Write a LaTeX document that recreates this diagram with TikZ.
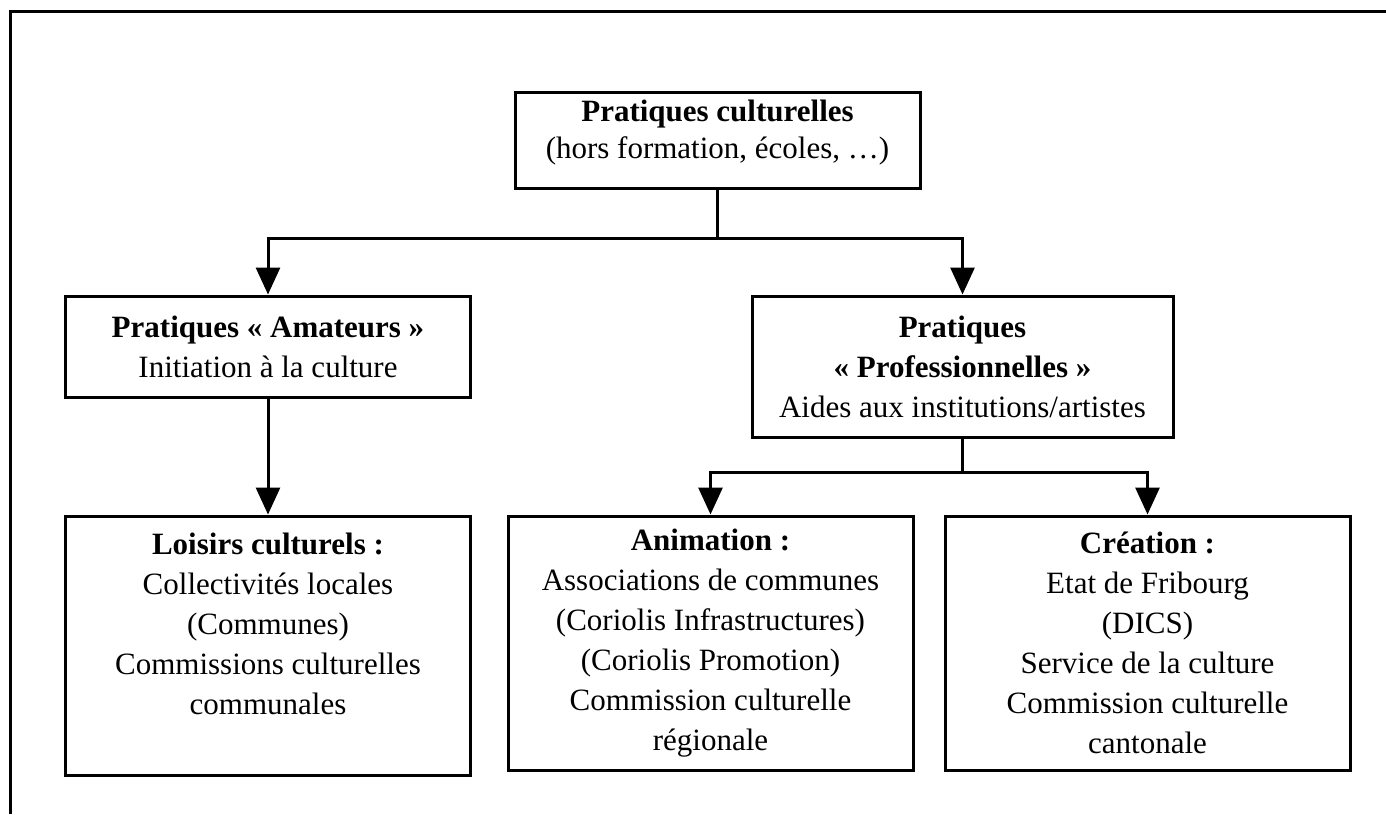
\documentclass[tikz,border=0pt]{standalone}
\usepackage{fontspec}
\setmainfont{Liberation Serif}
\usetikzlibrary{shapes,arrows,arrows.meta}
\tikzstyle{block} = [rectangle, draw, line width=3pt,
    text width=380pt, align=flush center, inner sep=0pt, minimum width=405pt]
\tikzstyle{line} = [draw, line width=3pt, -{Triangle[width=24pt,length=27pt]}]

\begin{document}
\begin{tikzpicture}[x=1pt, y=1pt, font=\fontsize{31pt}{40pt}\selectfont]
      \useasboundingbox (0,0) rectangle (1386,-814);
      \draw [line width=3pt] (10,-814) -- (10,-11) -- (1386,-11);

      \node [block, minimum height=96pt] (culture) at (717.5,-140)
         {\textbf{Pratiques culturelles}\\[-3pt](hors formation, écoles, …)\\[-18pt]~};
      \node [block, minimum height=101pt] (amateurs) at (268,-346.5)
         {\textbf{Pratiques « Amateurs »}\\Initiation à la culture};
      \node [block, minimum height=141pt, minimum width=421pt, text width=400pt]
         (pro) at (962.5,-366.5)
         {\textbf{Pratiques}\\\textbf{« Professionnelles »}\\Aides aux institutions/artistes};
      \node [block, below of=amateurs, node distance=299pt, minimum height=259pt]
         (loisirs) {\textbf{Loisirs culturels :}\\Collectivités locales\\(Communes)\\
         Commissions culturelles\\communales\\[4pt]~};
      \node [block, minimum height=254pt] (animation) at (710.5,-643)
         {\textbf{Animation :}\\Associations de communes\\(Coriolis Infrastructures)\\
         (Coriolis Promotion)\\Commission culturelle\\régionale};
      \node [block, right of=animation, node distance=437pt, minimum height=254pt]
         (creation) {\textbf{Création :}\\Etat de Fribourg\\(DICS)\\Service de la culture\\
         Commission culturelle\\cantonale};

      \path [line] (culture.south) -- ++(0,-49) -| (amateurs.north);
      \path [line] (culture.south) -- ++(0,-49) -| (pro.north);
      \path [line] (amateurs) -- (loisirs);
      \path [line] (pro.south) -- ++(0,-34) -| (animation.north);
      \path [line] (pro.south) -- ++(0,-34) -| (creation.north);
\end{tikzpicture}
\end{document}
